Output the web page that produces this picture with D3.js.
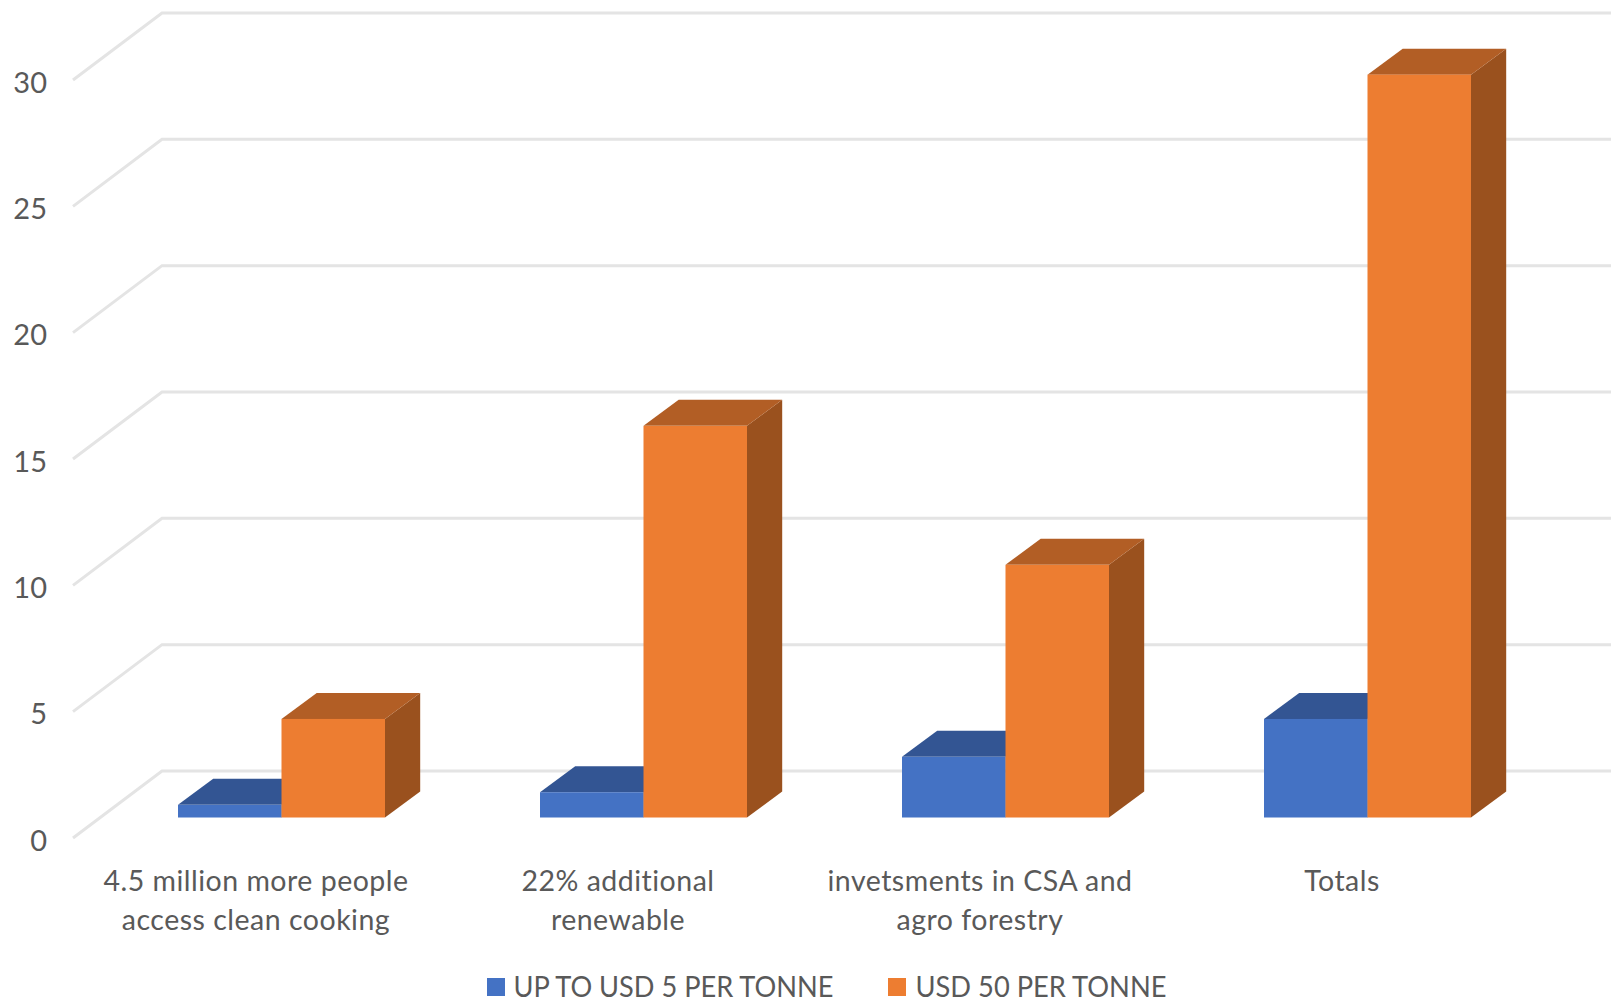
<!DOCTYPE html>
<html>
<head>
<meta charset="utf-8">
<title>Costs by carbon price</title>
<script src="https://cdnjs.cloudflare.com/ajax/libs/d3/7.8.5/d3.min.js"></script>
<style>
  html, body { margin: 0; background: #fff; }
  svg { display: block; }
  text { font-family: Lato, "Open Sans", sans-serif; fill: #595959; }
</style>
</head>
<body>
<div id="chart"></div>
<script>
const categories = [
  ["4.5 million more people", "access clean cooking"],
  ["22% additional", "renewable"],
  ["invetsments in CSA and", "agro forestry"],
  ["Totals"]
];
const seriesNames = ["UP TO USD 5 PER TONNE", "USD 50 PER TONNE"];
const lowPrice = [0.5, 1, 2.4, 3.9];
const highPrice = [3.9, 15.5, 10, 29.4];
const yTicks = [0, 5, 10, 15, 20, 25, 30];

const frontColors = ["#4472C4", "#ED7D31"];
const topColors = ["#335593", "#B25E25"];
const sideColors = ["#2A4675", "#9A511E"];

const width = 1613, height = 1008;
const svg = d3.select("#chart").append("svg").attr("width", width).attr("height", height);

// Oblique projection: the floor recedes up and to the right.
const wall = { dx: 89, dy: 67 };       // front edge of the floor to the back wall
const barLift = 20.5;                  // front edge of the floor to the foot of a bar
const barDepth = { dx: 35.2, dy: 26 }; // front face of a bar to its back face

const y = d3.scaleLinear().domain([0, 30]).range([838, 80]);
const x0 = d3.scaleBand().domain(d3.range(categories.length)).range([75, 1523]);
const x1 = d3.scaleBand().domain([0, 1]).range([-78, 129]);

// Gridlines on the back wall and along the side wall
const grid = svg.append("g").attr("fill", "none").attr("stroke", "#E4E4E4").attr("stroke-width", 3);
grid.selectAll("path").data(yTicks).join("path")
  .attr("d", v => {
    const p = d3.path();
    p.moveTo(73, y(v));
    p.lineTo(73 + wall.dx, y(v) - wall.dy);
    p.lineTo(1611, y(v) - wall.dy);
    return p.toString();
  });

// Value axis
const axis = svg.append("g")
  .attr("transform", "translate(47,0)")
  .call(d3.axisLeft(y).tickValues(yTicks).tickSize(0).tickPadding(0));
axis.select(".domain").remove();
axis.selectAll("text")
  .attr("dy", 12)
  .attr("font-size", 29)
  .style("font-family", "Lato, 'Open Sans', sans-serif")
  .attr("fill", "#595959");

// Bars, drawn as front, top and side faces
function poly(points) { return d3.line()(points) + "Z"; }

[lowPrice, highPrice].forEach((values, s) => {
  const g = svg.append("g").attr("class", "series-" + s);
  const bars = g.selectAll("g").data(values).join("g");
  const left = (d, i) => x0(i) + x0.bandwidth() / 2 + x1(s);
  const right = (d, i) => left(d, i) + x1.bandwidth();
  const base = y(0) - barLift;
  const topY = d => y(d) - barLift;

  bars.append("path").attr("fill", sideColors[s])
    .attr("d", (d, i) => poly([
      [right(d, i), base], [right(d, i) + barDepth.dx, base - barDepth.dy],
      [right(d, i) + barDepth.dx, topY(d) - barDepth.dy], [right(d, i), topY(d)]
    ]));
  bars.append("path").attr("fill", topColors[s])
    .attr("d", (d, i) => poly([
      [left(d, i), topY(d)], [left(d, i) + barDepth.dx, topY(d) - barDepth.dy],
      [right(d, i) + barDepth.dx, topY(d) - barDepth.dy], [right(d, i), topY(d)]
    ]));
  bars.append("rect").attr("fill", frontColors[s])
    .attr("x", left)
    .attr("y", topY)
    .attr("width", x1.bandwidth())
    .attr("height", d => base - topY(d));
});

// Category labels, wrapped over two lines
const labels = svg.append("g").selectAll("text").data(categories).join("text")
  .attr("text-anchor", "middle")
  .attr("font-size", 28.5)
  .attr("letter-spacing", 0.5)
  .attr("transform", (d, i) => `translate(${x0(i) + x0.bandwidth() / 2},891)`);
labels.selectAll("tspan").data(d => d).join("tspan")
  .attr("x", 0)
  .attr("y", (d, i) => i * 39)
  .text(d => d);

// Legend
const legendItems = [
  { swatch: 487, text: 513.5, length: 320 },
  { swatch: 888, text: 915.5, length: 251 }
];
const legend = svg.append("g").selectAll("g").data(seriesNames).join("g");
legend.append("rect")
  .attr("x", (d, i) => legendItems[i].swatch)
  .attr("y", 978)
  .attr("width", 18)
  .attr("height", 18)
  .attr("fill", (d, i) => frontColors[i]);
legend.append("text")
  .attr("x", (d, i) => legendItems[i].text)
  .attr("y", 997)
  .attr("font-size", 28.5)
  .attr("textLength", (d, i) => legendItems[i].length)
  .attr("lengthAdjust", "spacingAndGlyphs")
  .text(d => d);
</script>
</body>
</html>
